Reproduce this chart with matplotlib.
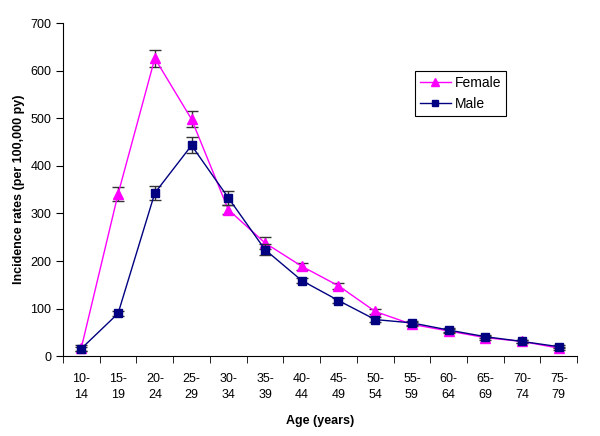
import matplotlib
matplotlib.use("Agg")
import matplotlib.pyplot as plt
from matplotlib.lines import Line2D
import numpy as np

plt.rcParams['font.family'] = ['Liberation Sans', 'DejaVu Sans']

ages = ["10-\n14", "15-\n19", "20-\n24", "25-\n29", "30-\n34", "35-\n39", "40-\n44",
        "45-\n49", "50-\n54", "55-\n59", "60-\n64", "65-\n69", "70-\n74", "75-\n79"]
female = [18, 341, 626, 498, 308, 238, 189, 148, 94, 67, 53, 39, 31, 17]
female_err = [6, 14, 18, 17, 9, 12, 7, 6, 6, 4, 4, 4, 3, 3]
male = [16, 90, 343, 443, 333, 224, 159, 117, 77, 70, 55, 41, 31, 20]
male_err = [4, 5, 15, 17, 15, 11, 6, 5, 5, 4, 4, 3, 3, 3]

fig = plt.figure(figsize=(6, 4.36), dpi=100)
ax = fig.add_axes([0.105, 0.183, 0.857, 0.764])
x = np.arange(len(ages))

ax.errorbar(x, female, yerr=female_err, color='#FF00FF', marker='^', markersize=6.5,
            linewidth=1, ecolor='#333333', elinewidth=1, capsize=4, capthick=1,
            zorder=3)
ax.errorbar(x, male, yerr=male_err, color='#000080', marker='s', markersize=5.5,
            linewidth=1, ecolor='#333333', elinewidth=1, capsize=4, capthick=1,
            zorder=4)

ax.set_xlim(-0.5, len(ages) - 0.5)
ax.set_ylim(0, 700)
ax.set_yticks(np.arange(0, 701, 100))
ax.set_xticks(x)
ax.set_xticklabels(ages, fontsize=9, linespacing=1.5)
ax.set_xticks(np.arange(-0.5, len(ages), 1), minor=True)
ax.tick_params(axis='x', which='major', length=0, pad=12)
ax.tick_params(axis='x', which='minor', length=5, direction='out')
ax.tick_params(axis='y', labelsize=9, length=5, direction='out')
for s in ['top', 'right']:
    ax.spines[s].set_visible(False)

ax.set_ylabel('Incidence rates (per 100,000 py)', fontsize=9, fontweight='bold')
ax.set_xlabel('Age (years)', fontsize=9, fontweight='bold', labelpad=10)

handles = [Line2D([], [], color='#FF00FF', marker='^', markersize=6, linewidth=1),
           Line2D([], [], color='#000080', marker='s', markersize=5, linewidth=1)]
leg = ax.legend(handles, ['Female', 'Male'], loc='upper left',
                bbox_to_anchor=(0.685, 0.855),
                fontsize=10, frameon=True, fancybox=False, edgecolor='black',
                framealpha=1, borderpad=0.35, handlelength=2.2, labelspacing=0.5,
                handletextpad=0.3, borderaxespad=0)
leg.get_frame().set_linewidth(0.8)

fig.savefig('out.png', dpi=100)
